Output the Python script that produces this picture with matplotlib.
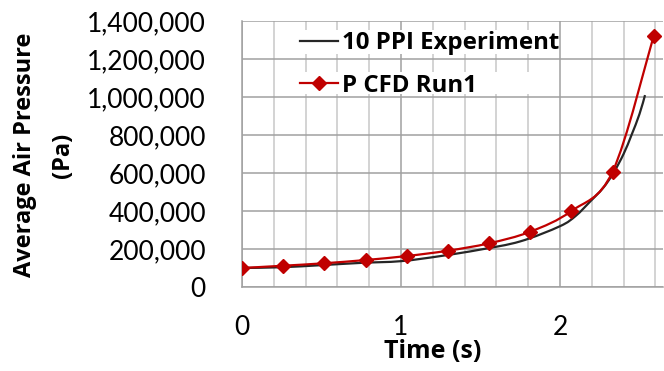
import numpy as np
import matplotlib
matplotlib.use("Agg")
import matplotlib.pyplot as plt
from matplotlib.path import Path
from matplotlib.patches import PathPatch, Rectangle
from matplotlib.lines import Line2D
from matplotlib.ticker import MultipleLocator, FuncFormatter

plt.rcParams['font.family'] = ['Lato', 'DejaVu Sans']
BOLD_FONT = ['Open Sans', 'DejaVu Sans']

# Measured pressure, 10 PPI foam
exp_time = [0.0, 0.25, 0.5, 0.75, 1.0, 1.25, 1.5, 1.75, 2.0, 2.1, 2.19, 2.27,
            2.335, 2.40, 2.45, 2.50, 2.535]
exp_pressure = [100000, 104000, 115000, 127000, 136000, 163000, 197000, 240000,
                320000, 375000, 450000, 520000, 598000, 700000, 800000, 910000,
                1010000]

# CFD run 1
cfd_time = [0.0, 0.259, 0.518, 0.777, 1.036, 1.295, 1.554, 1.813, 2.072, 2.331, 2.59]
cfd_pressure = [100000, 112000, 125000, 142000, 163000, 191000, 230000, 291000,
                400000, 607000, 1323000]

x_ticks = [0, 1, 2]
y_ticks = [0, 200000, 400000, 600000, 800000, 1000000, 1200000, 1400000]

RED = '#C00000'
BLACK = '#262626'


def smooth_path(xs, ys, k=1.0 / 6.0):
    """Cubic Bezier path through the points (spreadsheet-style smoothed line)."""
    xs = np.asarray(xs, float)
    ys = np.asarray(ys, float)
    n = len(xs)
    verts = [(xs[0], ys[0])]
    codes = [Path.MOVETO]
    for i in range(n - 1):
        i0 = max(i - 1, 0)
        i3 = min(i + 2, n - 1)
        c1 = (xs[i] + (xs[i + 1] - xs[i0]) * k, ys[i] + (ys[i + 1] - ys[i0]) * k)
        c2 = (xs[i + 1] - (xs[i3] - xs[i]) * k, ys[i + 1] - (ys[i3] - ys[i]) * k)
        verts += [c1, c2, (xs[i + 1], ys[i + 1])]
        codes += [Path.CURVE4] * 3
    return Path(verts, codes)


W, H = 664, 371
fig = plt.figure(figsize=(W / 100, H / 100), dpi=100)
ax = fig.add_axes([242 / W, 84 / H, 421 / W, 266 / H])

ax.add_patch(PathPatch(smooth_path(exp_time, exp_pressure), facecolor='none',
                       edgecolor=BLACK, lw=1.6, zorder=3))
ax.add_patch(PathPatch(smooth_path(cfd_time, cfd_pressure), facecolor='none',
                       edgecolor=RED, lw=1.6, zorder=4))
ax.plot(cfd_time, cfd_pressure, linestyle='none', marker='D', markersize=7.5,
        color=RED, zorder=5)

ax.set_xlim(0, 2.648)
ax.set_ylim(0, 1400000)
ax.xaxis.set_major_locator(MultipleLocator(1))
ax.xaxis.set_minor_locator(MultipleLocator(0.2))
ax.set_yticks(y_ticks)
ax.set_xticks(x_ticks)
ax.yaxis.set_major_formatter(FuncFormatter(lambda v, p: f"{int(v):,}"))

ax.grid(True, which='major', color='#a0a0a0', lw=1.1, zorder=0)
ax.grid(True, which='minor', axis='x', color='#c8c8c8', lw=1.1, zorder=0)
ax.set_axisbelow(True)

for s in ['top', 'right']:
    ax.spines[s].set_visible(False)
for s in ['left', 'bottom']:
    ax.spines[s].set_color('#a0a0a0')
    ax.spines[s].set_linewidth(1.1)

ax.tick_params(axis='both', which='both', length=0, labelsize=19, colors='black')
ax.tick_params(axis='y', pad=26)
ax.tick_params(axis='x', pad=20)

fig.text(433 / W, 1 - 352 / H, 'Time (s)', fontsize=18, fontweight='bold',
         family=BOLD_FONT, ha='center', va='center')
fig.text(44 / W, 1 - 155 / H, 'Average Air Pressure\n(Pa)', fontsize=17,
         fontweight='bold', family=BOLD_FONT, rotation=90, ha='center',
         va='center', multialignment='center', linespacing=1.8)

# white backing behind each legend row
for y0, y1 in [(30, 54), (72, 94)]:
    ax.add_patch(Rectangle(((300 - 242) / 421, (287 - y1) / 266),
                           (558 - 300) / 421, (y1 - y0) / 266,
                           transform=ax.transAxes, facecolor='white',
                           edgecolor='none', zorder=2))

handles = [Line2D([], [], color=BLACK, lw=1.6),
           Line2D([], [], color=RED, lw=1.6, marker='D', markersize=7.5)]
leg = ax.legend(handles, ['10 PPI Experiment', 'P CFD Run1'], loc='upper left',
                bbox_to_anchor=((300 - 242) / 421, (287 - 31) / 266),
                frameon=False, borderpad=0, borderaxespad=0,
                prop={'size': 17.3, 'weight': 'bold', 'family': BOLD_FONT},
                handlelength=1.6, handletextpad=0.15, labelspacing=0.77)
leg.set_zorder(6)

fig.savefig('out.png', dpi=100)
